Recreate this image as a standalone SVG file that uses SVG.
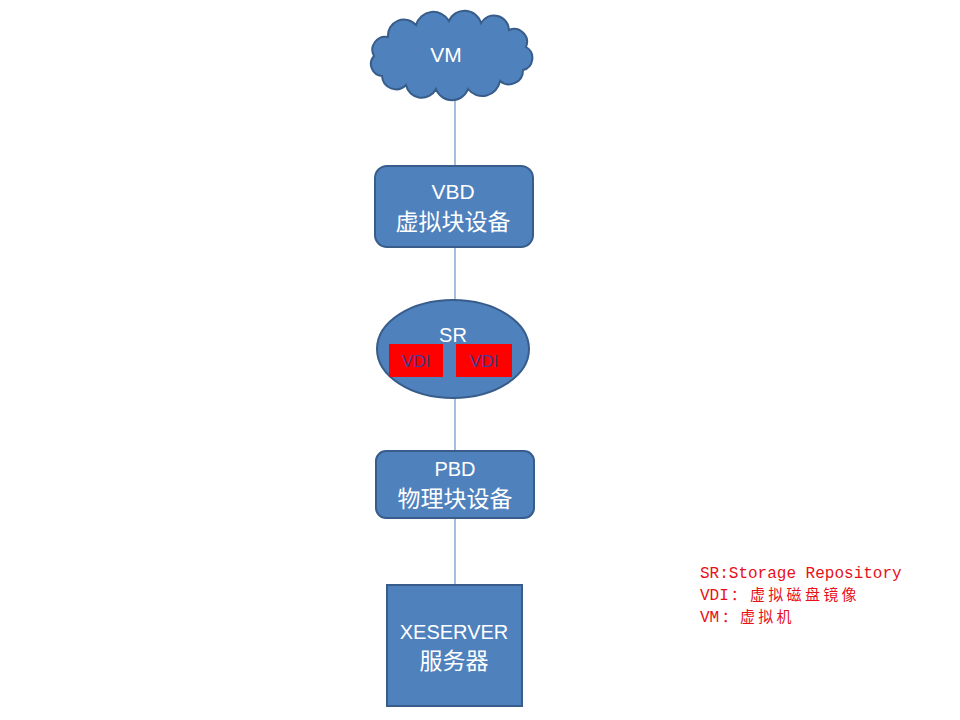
<svg xmlns="http://www.w3.org/2000/svg" width="960" height="720" viewBox="0 0 960 720">
<style>
.shape{fill:#4F81BD;stroke:#385D8A;stroke-width:2}
.lbl{font-family:"Liberation Sans","Noto Sans CJK SC",sans-serif;font-size:20px;fill:#FFFFFF;text-anchor:middle}
.cjk{font-family:"Noto Sans CJK SC",sans-serif;font-size:23px;fill:#FFFFFF;text-anchor:middle}
.vdi{fill:#FF0000}
.vdit{font-family:"Liberation Sans",sans-serif;font-size:17px;fill:#3B3F9E;text-anchor:middle}
.conn line{stroke:#4A7EBB;stroke-width:1}
.leg{font-family:"Liberation Mono","Noto Sans CJK SC",monospace;font-size:16px;fill:#E8101A}
.legc{font-family:"Noto Sans CJK SC",sans-serif;font-size:15px;letter-spacing:3.3px}
</style>
<rect width="960" height="720" fill="#FFFFFF"/>
<g class="conn" id="connectors">
<line x1="455" y1="97" x2="455" y2="166"/>
<line x1="455" y1="247" x2="455" y2="300"/>
<line x1="455" y1="398" x2="455" y2="451"/>
<line x1="455" y1="519" x2="455" y2="585"/>
</g>
<g id="vm">
<path class="shape" d="M382,76 A12,12 0 0 1 374,56 A13,13 0 0 1 388,37 A16,16 0 0 1 416,25 A18,18 0 0 1 449,21 A17,17 0 0 1 481,23 A15,15 0 0 1 509,30 A13,13 0 0 1 526,47 A12.5,12.5 0 0 1 523,70 A14,14 0 0 1 500,81 A18,18 0 0 1 468,89 A17,17 0 0 1 436,89 A16,16 0 0 1 406,85 A14,14 0 0 1 382,76 Z"/>
<text class="lbl" x="446" y="62" style="font-size:21px">VM</text>
</g>
<g id="vbd">
<rect class="shape" x="375" y="166" width="158" height="81" rx="12"/>
<text class="lbl" x="453" y="199" style="font-size:21px">VBD</text>
<text class="cjk" x="453" y="230">虚拟块设备</text>
</g>
<g id="sr">
<ellipse class="shape" cx="453" cy="349" rx="76" ry="49"/>
<text class="lbl" x="453" y="342">SR</text>
<rect class="vdi" x="389" y="344" width="54" height="33"/>
<text class="vdit" x="416" y="367">VDI</text>
<rect class="vdi" x="456" y="344" width="56" height="33"/>
<text class="vdit" x="484" y="367">VDI</text>
</g>
<g id="pbd">
<rect class="shape" x="376" y="451" width="158" height="67" rx="10"/>
<text class="lbl" x="455" y="476">PBD</text>
<text class="cjk" x="455" y="507">物理块设备</text>
</g>
<g id="xeserver">
<rect class="shape" x="387" y="585" width="135" height="121"/>
<text class="lbl" x="454" y="639">XESERVER</text>
<text class="cjk" x="454" y="669">服务器</text>
</g>
<g id="legend">
<text class="leg" x="700" y="578">SR:Storage Repository</text>
<text class="leg" x="700" y="600">VDI<tspan class="legc" x="731">：</tspan><tspan class="legc" x="750">虚拟磁盘镜像</tspan></text>
<text class="leg" x="700" y="622">VM<tspan class="legc" x="722">：</tspan><tspan class="legc" x="740">虚拟机</tspan></text>
</g>
</svg>
